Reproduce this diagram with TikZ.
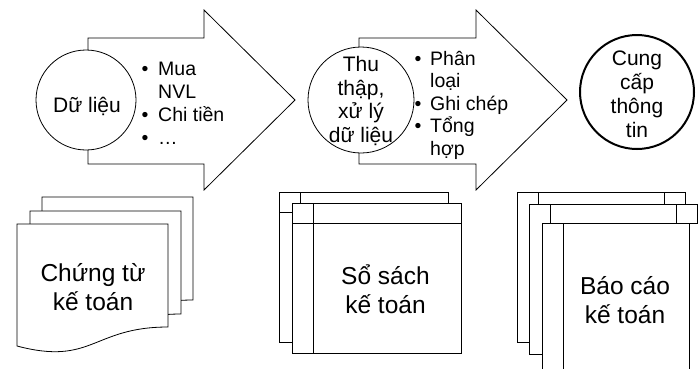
\documentclass[tikz,border=0pt]{standalone}
\usepackage{fontspec}
\setmainfont{Liberation Sans}
\tikzset{
  ln/.style={line width=0.8pt, line join=miter},
  bigarrow/.style={ln, draw=black, fill=white},
  bub/.style={circle, draw, ln, fill=white, minimum size=#1, inner sep=0pt},
  toptxt/.style={font=\fontsize{19.5}{23.5}\selectfont, inner sep=0pt},
  cirtxt/.style={font=\fontsize{21}{24}\selectfont, inner sep=0pt, align=center},
  bottxt/.style={font=\fontsize{24.5}{28.5}\selectfont, inner sep=0pt, align=center},
  pg/.style={ln, draw=black, fill=white}
}
\newcommand\docpg[2]{%
  \begin{scope}[shift={(#1,#2)}]
    \draw[pg] (0,0) -- (151,0) -- (151,103) .. controls (75.5,103) and (75.5,142) .. (0,122) -- cycle;
  \end{scope}}
\newcommand\bookpg[2]{%
  \begin{scope}[shift={(#1,#2)}]
    \draw[pg] (0,0) rectangle (169,150);
    \draw[ln] (21,0) -- (21,150);
    \draw[ln] (0,20) -- (169,20);
  \end{scope}}
\newcommand\reppg[2]{%
  \begin{scope}[shift={(#1,#2)}]
    \draw[pg] (0,0) rectangle (168,150);
    \draw[ln] (21,0) -- (21,150);
    \draw[ln] (147,0) -- (147,150);
  \end{scope}}
\begin{document}
\begin{tikzpicture}[x=1pt,y=-1pt]
\useasboundingbox (0,0) rectangle (698,368);
\clip (0,0) rectangle (698,368);
% big arrows and circles
\draw[bigarrow] (88,38) -- (204,38) -- (204,10) -- (295,100) -- (204,190) -- (204,164) -- (88,164) -- cycle;
\node[bub=100pt] (c1) at (86,100) {};
\draw[bigarrow] (359,38) -- (476,38) -- (476,10) -- (567,100) -- (476,190) -- (476,164) -- (359,164) -- cycle;
\node[bub=106pt] (c2) at (361,100) {};
\node[bub=114pt, line width=2pt] (c3) at (637,92) {};
% circle texts
\node[cirtxt, anchor=base] (t1) at (87,112) {Dữ liệu};
\node[cirtxt, font=\fontsize{21}{23.5}\selectfont] (t2) at (361,101) {Thu\\thập,\\xử lý\\dữ liệu};
\node[cirtxt] (t3) at (637,94) {Cung\\cấp\\thông\\tin};
% bullet lists
\node[toptxt, anchor=base west] (m1) at (141.5,75) {\makebox[16.5pt][l]{•}Mua};
\node[toptxt, anchor=base west] (m2) at (158,98) {NVL};
\node[toptxt, anchor=base west] (m3) at (141.5,121) {\makebox[16.5pt][l]{•}Chi tiền};
\node[toptxt, anchor=base west] (m4) at (141.5,144) {\makebox[16.5pt][l]{•}…};
\node[toptxt, anchor=base west] (p1) at (414.5,65) {\makebox[15.5pt][l]{•}Phân};
\node[toptxt, anchor=base west] (p2) at (430,87.5) {loại};
\node[toptxt, anchor=base west] (p3) at (414.5,110) {\makebox[15.5pt][l]{•}Ghi chép};
\node[toptxt, anchor=base west] (p4) at (414.5,132.5) {\makebox[15.5pt][l]{•}Tổng};
\node[toptxt, anchor=base west] (p5) at (430,155) {hợp};
% documents
\docpg{42}{197}
\docpg{30}{211}
\docpg{17}{224}
\node[bottxt] (b1) at (93,287) {Chứng từ\\kế toán};
% books
\bookpg{279}{192}
\bookpg{292}{203}
\node[bottxt] (b2) at (385.5,289) {Sổ sách\\kế toán};
% reports
\reppg{517}{192}
\reppg{529}{204}
\reppg{542}{223}
\node[bottxt] (b3) at (625,300) {Báo cáo\\kế toán};
\end{tikzpicture}
\end{document}
